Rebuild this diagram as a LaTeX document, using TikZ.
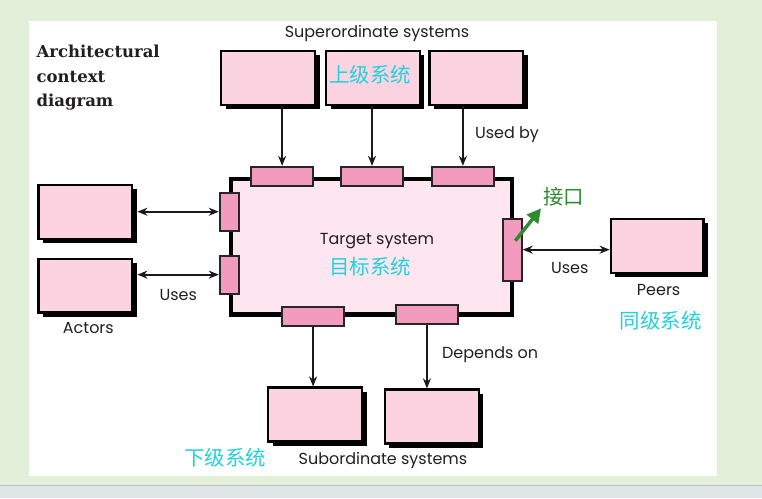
\documentclass[tikz,border=0pt]{standalone}
\usepackage{fontspec}
\setmainfont{Poppins}
\newfontfamily\cjk{Noto Sans CJK SC}
\newfontfamily\slab{DejaVu Serif}
\usetikzlibrary{arrows.meta, shadows, calc}
\definecolor{bggreen}{HTML}{E2EFD9}
\definecolor{bggray}{HTML}{DEE6E8}
\definecolor{boxpink}{HTML}{FCD3E1}
\definecolor{portpink}{HTML}{F39BBE}
\definecolor{tgtpink}{HTML}{FDE6EF}
\definecolor{txt}{HTML}{231F20}
\definecolor{cnblue}{HTML}{20D2DC}
\definecolor{cngreen}{HTML}{2E8B30}

\begin{document}
\begin{tikzpicture}[x=1pt, y=-1pt,
    sys/.style={draw=black, line width=2.2pt, fill=boxpink, minimum width=94pt, minimum height=54pt, inner sep=0pt,
        drop shadow={shadow xshift=4.5pt, shadow yshift=-4.5pt, fill=black, opacity=1}},
    hport/.style={draw=black!85, line width=1.9pt, fill=portpink, minimum width=62pt, minimum height=19pt, inner sep=0pt},
    vport/.style={draw=black!85, line width=1.9pt, fill=portpink, minimum width=19pt, minimum height=38pt, inner sep=0pt},
    lbl/.style={text=txt, font=\fontsize{16}{18}\selectfont, inner sep=0pt},
    cn/.style={text=cnblue, font=\cjk\fontsize{20.5}{22}\selectfont, inner sep=0pt},
    link/.style={line width=2pt, black!90, -{Stealth[length=10pt, width=8pt]}},
    both/.style={line width=2pt, black!90, {Stealth[length=10pt, width=8pt]}-{Stealth[length=10pt, width=8pt]}}]

    % backdrop
    \fill[bggreen] (0,0) rectangle (762,499);
    \fill[white] (29,21) rectangle (717,477);
    \fill[bggray] (0,486) rectangle (762,499);
    \draw[black!25, line width=1pt] (0,486) -- (762,486);

    \node[text=txt, font=\slab\bfseries\fontsize{16.5}{24.5}\selectfont, align=left, anchor=west, inner sep=0pt] (title) at (36,78) {Architectural\\context\\diagram};

    % target system with its interfaces
    \node[draw=black, line width=4.5pt, fill=tgtpink, minimum width=281pt, minimum height=136pt] (tgt) at (371.5,247) {};
    \node[hport] (ti1) at (282,176.5) {};
    \node[hport] (ti2) at (372,176.5) {};
    \node[hport] (ti3) at (463,176.5) {};
    \node[vport] (li1) at (229,212) {};
    \node[vport] (li2) at (229,275) {};
    \node[vport, minimum height=62pt] (ri) at (512.5,250) {};
    \node[hport] (bi1) at (313,316.5) {};
    \node[hport] (bi2) at (427,314.5) {};
    \node[lbl] (tgtname) at (377,241) {Target system};
    \node[cn] (tgtcn) at (370,267) {目标系统};

    % superordinate systems
    \node[sys] (sup1) at (268,78) {};
    \node[sys] (sup2) at (373,78) {};
    \node[sys] (sup3) at (476.5,78) {};
    \node[lbl] (supname) at (377,34) {Superordinate systems};
    \node[cn] (supcn) at (370,75) {上级系统};
    \draw[link] (ti1.north |- sup1.south) to (ti1.north);
    \draw[link] (ti2.north |- sup2.south) to (ti2.north);
    \draw[link] (ti3.north |- sup3.south) to (ti3.north);
    \node[lbl, anchor=west] (usedby) at (475,135) {Used by};

    % actors
    \node[sys] (act1) at (85,212) {};
    \node[sys] (act2) at (85,286) {};
    \draw[both, shorten <=4pt] (act1.east) to (act1.east -| li1.west);
    \draw[both, shorten <=4pt] (li2.west -| act2.east) to (li2.west);
    \node[lbl] (uses1) at (178,295) {Uses};
    \node[lbl] (actname) at (88,328) {Actors};

    % peers
    \node[sys, minimum width=93pt] (peer) at (657.5,246) {};
    \draw[both] (ri.east) to (ri.east -| peer.west);
    \node[lbl] (uses2) at (570,268) {Uses};
    \node[lbl] (peername) at (659,290) {Peers};
    \node[cn] (peercn) at (661,321) {同级系统};

    % interface note
    \node[cn, text=cngreen] (jk) at (564,197) {接口};
    \draw[cngreen, line width=3.5pt, -{Triangle[length=14pt, width=14pt]}] ($(ri.center)+(3,-9)$) to ([xshift=-2pt, yshift=-2pt]jk.south west);

    % subordinate systems
    \node[sys] (sub1) at (315,415) {};
    \node[sys] (sub2) at (432,417) {};
    \draw[link] (bi1.south) to (bi1.south |- sub1.north);
    \draw[link] (bi2.south) to (bi2.south |- sub2.north);
    \node[lbl, anchor=west] (depends) at (442,355) {Depends on};
    \node[lbl] (subname) at (383,461) {Subordinate systems};
    \node[cn] (subcn) at (225,458) {下级系统};

    \useasboundingbox (0,0) rectangle (762,499);
\end{tikzpicture}
\end{document}
